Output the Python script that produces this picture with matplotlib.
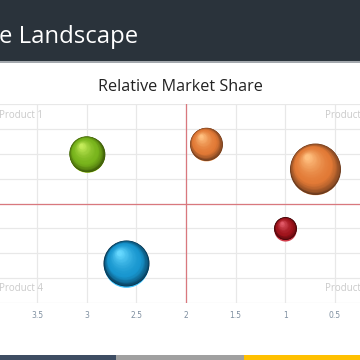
import matplotlib
matplotlib.use("Agg")
import matplotlib.pyplot as plt
import matplotlib.transforms as mtransforms
from matplotlib.colors import to_rgb
import numpy as np

# ---- data ----
rel_share = [3.0, 2.6, 1.8, 0.7, 1.0]          # x: relative market share
growth = [2.0, -2.4, 2.4, 1.4, -1.0]           # y: market growth
bubble_size = [32, 53, 27, 65, 13]             # bubble size
base_colors = ["#78b41c", "#1896cf", "#e27a36", "#e27a36", "#a0141c"]
hi_colors = ["#c4ec5a", "#66d8ff", "#ffc080", "#ffc080", "#e25a68"]
dark_colors = ["#3a5606", "#06304a", "#6a3a1e", "#6a3a1e", "#3a0406"]
rim_colors = ["#b4e430", "#3cc4ff", "#ffaa66", "#ffaa66", "#d03a48"]
x_ticks = [3.5, 3, 2.5, 2, 1.5, 1, 0.5]
x_tick_labels = ["3.5", "3", "2.5", "2", "1.5", "1", "0.5"]
quadrant_labels = ["Product 1", "Product 2", "Product 3", "Product 4"]
chart_title = "Relative Market Share"
slide_title = "e Landscape"

W, H, DPI = 360, 360, 100
fig = plt.figure(figsize=(W / DPI, H / DPI), dpi=DPI)
fig.patch.set_facecolor("white")

# header band
fig.patches.append(plt.Rectangle((0, 1 - 61 / H), 1, 61 / H, transform=fig.transFigure,
                                 facecolor="#2a333b", edgecolor="none", zorder=0))
fig.patches.append(plt.Rectangle((0, 1 - 62.5 / H), 1, 1.5 / H, transform=fig.transFigure,
                                 facecolor="#a3a8ad", edgecolor="none", zorder=0))
fig.text(-1 / W, 1 - 37 / H, slide_title, color="white", fontsize=17.2,
         family="Open Sans", ha="left", va="center")
fig.text(180 / W, 1 - 87 / H, chart_title, color="#222222", fontsize=11.6,
         family="Open Sans", ha="center", va="center")

# bottom bars
for x0, x1, c in [(0, 116, "#3e4d63"), (116, 244, "#a0a0a0"), (244, 360, "#ffc000")]:
    fig.patches.append(plt.Rectangle((x0 / W, 0), (x1 - x0) / W, 5 / H,
                                     transform=fig.transFigure, facecolor=c,
                                     edgecolor="none", zorder=0))

# axes
ax = fig.add_axes([0, (H - 303) / H, 1, 199 / H])
ax.set_facecolor("none")
px_per_unit = (335 - 37) / 3.0
ax.set_xlim(2 + 186 / px_per_unit, 2 - 174 / px_per_unit)
ax.set_ylim(-4, 4)
for s in ax.spines.values():
    s.set_visible(False)
ax.set_xticks(x_ticks)
ax.set_xticklabels(x_tick_labels)
ax.set_yticks(np.arange(-4, 5, 1))
ax.tick_params(axis="x", length=0, pad=6, labelsize=5.5, labelcolor="#7f8fa0")
ax.tick_params(axis="y", length=0, labelleft=False)
ax.set_axisbelow(True)
ax.grid(True, color="#e8e8e8", linewidth=0.9)
ax.axvline(2, color="#d9787e", linewidth=0.9, zorder=2)
ax.axhline(0, color="#d9787e", linewidth=0.9, zorder=2)

# quadrant labels
lab_kw = dict(color="#cacaca", fontsize=7, family="Open Sans", va="center", zorder=2)
ax.text(3.885, 3.55, quadrant_labels[0], ha="left", **lab_kw)
ax.text(0.60, 3.55, quadrant_labels[1], ha="left", **lab_kw)
ax.text(0.60, -3.4, quadrant_labels[2], ha="left", **lab_kw)
ax.text(3.885, -3.4, quadrant_labels[3], ha="left", **lab_kw)

# spheres via layered scatter
def lerp(c1, c2, t):
    a, b = np.array(to_rgb(c1)), np.array(to_rgb(c2))
    return tuple(a + (b - a) * t)

N = 45
px2pt = 72.0 / DPI
for i in range(len(rel_share)):
    r_px = np.sqrt(bubble_size[i] * 10.0)
    r_pt = r_px * px2pt
    x, y = rel_share[i], growth[i]
    # bottom rim reflection
    tr = mtransforms.offset_copy(ax.transData, fig=fig, x=0, y=-1.3 * px2pt, units="points")
    ax.scatter([x], [y], s=(2 * r_pt * 0.97) ** 2, color=rim_colors[i], linewidths=0,
               transform=tr, zorder=3)
    for k in range(N):
        t = k / (N - 1)
        rad = r_pt * (1 - 0.9 * t)
        shift = (r_pt - rad) * 0.62
        dx = -0.55 * shift
        dy = 0.83 * shift
        if t < 0.3:
            col = lerp(dark_colors[i], base_colors[i], (t / 0.3) ** 0.7)
        else:
            col = lerp(base_colors[i], hi_colors[i], ((t - 0.3) / 0.7) ** 1.6)
        tr = mtransforms.offset_copy(ax.transData, fig=fig, x=dx, y=dy, units="points")
        ax.scatter([x], [y], s=(2 * rad) ** 2, color=col, linewidths=0,
                   transform=tr, zorder=4 + k * 0.001)

fig.savefig("out.png", dpi=DPI)
